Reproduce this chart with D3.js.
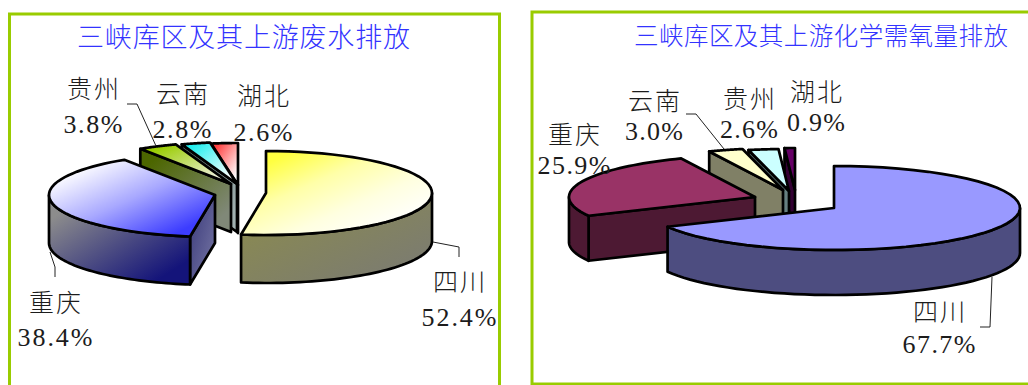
<!DOCTYPE html>
<html>
<head>
<meta charset="utf-8">
<style>
  html, body { margin: 0; padding: 0; background: #fff; overflow: hidden; }
  text { font-family: "Noto Sans CJK SC", sans-serif; font-weight: 300; }
  .num { font-family: "Liberation Serif", serif; font-weight: 400; }
</style>
<script src="https://cdn.jsdelivr.net/npm/d3@7/dist/d3.min.js"></script>
</head>
<body>
<svg id="chart" width="1028" height="385"></svg>
<script>
// Discharge shares by province, in percent
const wastewaterRegions = ["四川", "重庆", "贵州", "云南", "湖北"];
const wastewaterShares = [52.4, 38.4, 3.8, 2.8, 2.6];
const codRegions = ["四川", "重庆", "云南", "贵州", "湖北"];
const codShares = [67.7, 25.9, 3.0, 2.6, 0.9];

const wastewaterTitle = "三峡库区及其上游废水排放";
const codTitle = "三峡库区及其上游化学需氧量排放";

// Slice appearance: evenly spaced gradient colours for the lid, walls and cut face
const wastewaterStyles = [
  { top: ["#ffff40", "#ffffa8", "#ffffe0", "#ffffff"], wall: ["#8a8a50", "#7c7c70"], cut: ["#808060", "#808060"] },
  { top: ["#ffffff", "#a8a8ff", "#3c3cff"], wall: ["#8c8c8c", "#14147a"], cut: ["#40407f", "#7070a0"] },
  { top: ["#99cc00", "#f0f0e0"], wall: ["#4c6600", "#808878"], cut: ["#4c6600", "#808878"] },
  { top: ["#22eeee", "#ffffff"], wall: ["#808080", "#808080"], cut: ["#607070", "#a0b0b0"] },
  { top: ["#ff4040", "#ffffff"], wall: ["#909090", "#909090"], cut: ["#808080", "#a0a0a0"] }
];
const codStyles = [
  { top: ["#9999ff", "#9999ff"], wall: ["#4d4d80", "#4d4d80"], cut: ["#4d4d80", "#4d4d80"] },
  { top: ["#993366", "#993366"], wall: ["#4d1933", "#4d1933"], cut: ["#4d1933", "#4d1933"] },
  { top: ["#ffffcc", "#ffffcc"], wall: ["#808066", "#808066"], cut: ["#808066", "#808066"] },
  { top: ["#ccffff", "#ccffff"], wall: ["#668080", "#668080"], cut: ["#668080", "#668080"] },
  { top: ["#660066", "#660066"], wall: ["#330033", "#330033"], cut: ["#330033", "#330033"] }
];

// Exploded slice apexes, label anchors and leader lines for each panel
const wastewaterLayout = {
  rx: 166, ry: 42, depth: 48,
  apex: [[266, 193], [215, 195], [231, 184], [237, 184], [238, 185]],
  labels: [[459, 282, 317], [55, 303, 337], [93, 89, 124], [182, 94, 129], [263, 96, 132]],
  numWidth: [75, 75, 59, 59, 59],
  leaders: [
    [[433, 242], [459, 247], [459, 257]],
    [[50, 252], [55, 267], [55, 277]],
    [[127, 104], [137, 104], [156, 146]]
  ],
  title: { x: 243.5, y: 38, width: 333, size: 27 }
};
const codLayout = {
  rx: 186, ry: 42, depth: 45,
  apex: [[834, 208], [755, 197], [783, 190], [789, 191], [795, 190]],
  labels: [[939, 312, 344], [574, 135, 165], [654, 101, 131], [749, 99, 129], [816, 92, 122]],
  numWidth: [73, 73, 58, 58, 58],
  leaders: [
    [[992, 277], [990, 327], [980, 327]],
    [[686, 114], [696, 114], [724, 149]]
  ],
  title: { x: 821, y: 36, width: 374, size: 24.5 }
};

const svg = d3.select("#chart");
const defs = svg.append("defs");
const frameColor = "#99cc00";
const inkColor = "#1c1c1c";
let gradientCount = 0;

function gradient(stops) {
  const id = "shade" + (gradientCount++);
  const g = defs.append("linearGradient").attr("id", id)
    .attr("x1", 0).attr("y1", 0).attr("x2", 1).attr("y2", 1);
  stops.forEach((color, i) => {
    g.append("stop")
      .attr("offset", (14 + 72 * i / (stops.length - 1)) + "%")
      .attr("stop-color", color);
  });
  return "url(#" + id + ")";
}

const closedPath = d3.line().curve(d3.curveLinearClosed);
const openPath = d3.line();

function drawPanel(regions, shares, styles, layout, titleText) {
  const { rx, ry, depth } = layout;
  const arcs = d3.pie().sort(null).startAngle(0).endAngle(2 * Math.PI)(shares);
  const panel = svg.append("g");

  // Project a clock angle on to the tilted disc around one slice's apex
  const rim = (apex, a, drop = 0) =>
    [apex[0] + rx * Math.sin(a), apex[1] - ry * Math.cos(a) + drop];
  const sweep = (a0, a1) => d3.range(0, 49).map(i => a0 + (a1 - a0) * i / 48);

  // Paint from the rear slices to the nearest ones
  d3.range(arcs.length - 1, -1, -1).forEach(i => {
    const arc = arcs[i], apex = layout.apex[i], style = styles[i];
    const a0 = arc.startAngle, a1 = arc.endAngle;
    const g = panel.append("g")
      .attr("stroke", "#000").attr("stroke-width", 2.7).attr("stroke-linejoin", "round");

    // Cut face along the leading edge, visible on slices in the left half of the disc
    if (a0 > Math.PI) {
      const p = rim(apex, a0);
      g.append("path")
        .attr("d", closedPath([apex, p, [p[0], p[1] + depth], [apex[0], apex[1] + depth]]))
        .attr("fill", gradient(style.cut));
    }
    // Cylindrical outer wall, the front half of the rim only
    const w0 = Math.max(a0, Math.PI / 2), w1 = Math.min(a1, 3 * Math.PI / 2);
    if (w1 > w0) {
      const upper = sweep(w0, w1).map(a => rim(apex, a));
      const lower = sweep(w1, w0).map(a => rim(apex, a, depth));
      g.append("path")
        .attr("d", closedPath(upper.concat(lower)))
        .attr("fill", gradient(style.wall));
    }
    // Lid of the slice
    g.append("path")
      .attr("d", closedPath([apex].concat(sweep(a0, a1).map(a => rim(apex, a)))))
      .attr("fill", gradient(style.top));
  });

  // Leader lines
  panel.selectAll("path.leader").data(layout.leaders).join("path")
    .attr("class", "leader")
    .attr("d", d => openPath(d))
    .attr("fill", "none").attr("stroke", "#222").attr("stroke-width", 1);

  // Region name above its share
  regions.forEach((name, i) => {
    const [x, yName, yNum] = layout.labels[i];
    panel.append("text")
      .attr("x", x).attr("y", yName + 9)
      .attr("text-anchor", "middle").attr("font-size", 25).attr("fill", inkColor)
      .attr("textLength", 52).attr("lengthAdjust", "spacing")
      .text(name);
    panel.append("text").attr("class", "num")
      .attr("x", x).attr("y", yNum + 9)
      .attr("text-anchor", "middle").attr("font-size", 26).attr("fill", inkColor)
      .attr("textLength", layout.numWidth[i]).attr("lengthAdjust", "spacing")
      .text(d3.format(".1f")(shares[i]) + "%");
  });

  // Panel heading
  const t = layout.title;
  panel.append("text")
    .attr("x", t.x).attr("y", t.y + 9)
    .attr("text-anchor", "middle").attr("font-size", t.size).attr("fill", "#3333ff")
    .attr("textLength", t.width).attr("lengthAdjust", "spacing")
    .text(titleText);
}

// Panel frames run past the edge of the page
svg.append("rect").attr("x", 9.5).attr("y", 14).attr("width", 490).attr("height", 400)
  .attr("fill", "#fff").attr("stroke", frameColor).attr("stroke-width", 3);
svg.append("rect").attr("x", 532).attr("y", 12).attr("width", 600).attr("height", 372)
  .attr("fill", "#fff").attr("stroke", frameColor).attr("stroke-width", 3);

drawPanel(wastewaterRegions, wastewaterShares, wastewaterStyles, wastewaterLayout, wastewaterTitle);
drawPanel(codRegions, codShares, codStyles, codLayout, codTitle);
</script>
</body>
</html>
